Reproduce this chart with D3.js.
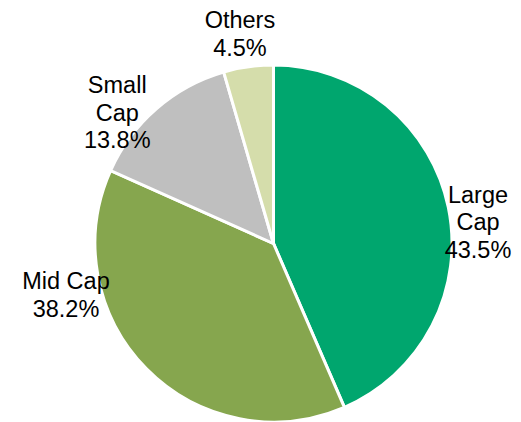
<!DOCTYPE html>
<html>
<head>
<meta charset="utf-8">
<script src="https://cdn.jsdelivr.net/npm/d3@7/dist/d3.min.js"></script>
<style>
  html, body { margin: 0; padding: 0; background: #fff; }
  svg { display: block; }
</style>
</head>
<body>
<svg id="chart" width="521" height="422"></svg>
<script>
// ---- data ----
const categories = ["Large Cap", "Mid Cap", "Small Cap", "Others"];
const labelLines = [["Large", "Cap"], ["Mid Cap"], ["Small", "Cap"], ["Others"]];
const values = [43.5, 38.2, 13.8, 4.5];
const colors = ["#00A66E", "#86A64E", "#BFBFBF", "#D5DDAB"];

// ---- layout (label placement, degrees clockwise from 12 o'clock) ----
const labelAngleDeg = [84, 256.2, 310, 350.9];
const labelRadius = [205.6, 213.7, 204, 212.4];

const width = 521, height = 422;
const cx = 273.5, cy = 243.5, radius = 178.5;
const fontSize = 23.5, lineHeight = 27.6;

const svg = d3.select("#chart");
const g = svg.append("g").attr("transform", `translate(${cx},${cy})`);

const pie = d3.pie().sort(null).value(d => d.value).startAngle(0).endAngle(2 * Math.PI);
const data = categories.map((c, i) => ({ cat: c, value: values[i], color: colors[i], lines: labelLines[i], i }));
const arcs = pie(data);

const arc = d3.arc().innerRadius(0).outerRadius(radius);

g.selectAll("path.slice")
  .data(arcs)
  .join("path")
  .attr("class", "slice")
  .attr("d", arc)
  .attr("fill", d => d.data.color)
  .attr("stroke", "#fff")
  .attr("stroke-width", 3)
  .attr("stroke-linejoin", "miter");

const fmt = d3.format(".1f");

const labels = g.selectAll("text.lbl")
  .data(arcs)
  .join("text")
  .attr("class", "lbl")
  .attr("font-family", "Liberation Sans, Arial, sans-serif")
  .attr("font-size", fontSize)
  .attr("fill", "#000")
  .attr("text-anchor", "middle")
  .attr("transform", d => {
    const a = labelAngleDeg[d.data.i] * Math.PI / 180;
    const r = labelRadius[d.data.i];
    return `translate(${r * Math.sin(a)},${-r * Math.cos(a)})`;
  });

labels.each(function(d) {
  const lines = d.data.lines.concat([fmt(d.data.value) + "%"]);
  const n = lines.length;
  const capH = fontSize * 0.716;
  const firstBaseline = -((n - 1) * lineHeight + capH) / 2 + capH;
  d3.select(this).selectAll("tspan")
    .data(lines)
    .join("tspan")
    .attr("x", 0)
    .attr("y", (t, k) => firstBaseline + k * lineHeight)
    .text(t => t);
});
</script>
</body>
</html>
